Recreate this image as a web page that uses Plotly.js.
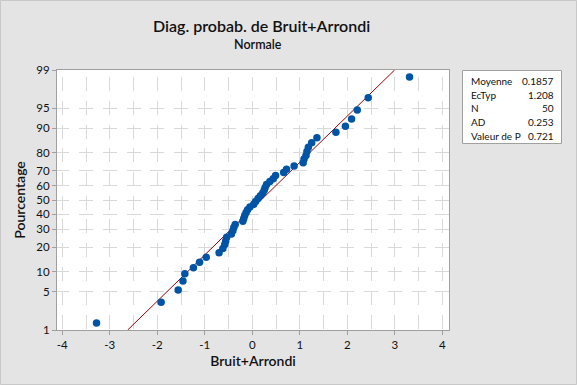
<!DOCTYPE html>
<html>
<head>
<meta charset="utf-8">
<script src="https://cdn.plot.ly/plotly-3.0.1.min.js"></script>
<style>html,body{margin:0;padding:0;background:#e4e4e4;}#chart{width:577px;height:385px;}</style>
</head>
<body>
<div id="chart"></div>
<script>
// Observed values (sorted) of Bruit+Arrondi
const values = [-3.28, -1.92, -1.56, -1.46, -1.42, -1.24, -1.11, -0.97, -0.70, -0.62,
  -0.58, -0.56, -0.54, -0.44, -0.41, -0.39, -0.36, -0.20, -0.18, -0.16,
  -0.13, -0.10, -0.05, 0.03, 0.07, 0.12, 0.17, 0.22, 0.25, 0.27,
  0.30, 0.37, 0.44, 0.49, 0.66, 0.72, 0.88, 1.07, 1.09, 1.13,
  1.15, 1.18, 1.25, 1.36, 1.76, 1.96, 2.09, 2.21, 2.44, 3.31];
// Plotted percentages (median ranks)
const percents = [1.39, 3.37, 5.36, 7.34, 9.33, 11.31, 13.29, 15.28, 17.26, 19.25,
  21.23, 23.21, 25.20, 27.18, 29.17, 31.15, 33.13, 35.12, 37.10, 39.09,
  41.07, 43.06, 45.04, 47.02, 49.01, 50.99, 52.98, 54.96, 56.94, 58.93,
  60.91, 62.90, 64.88, 66.87, 68.85, 70.83, 72.82, 74.80, 76.79, 78.77,
  80.75, 82.74, 84.72, 86.71, 88.69, 90.67, 92.66, 94.64, 96.63, 98.61];
const yTickPercents = [1, 5, 10, 20, 30, 40, 50, 60, 70, 80, 90, 95, 99];
const xTickVals = [-4, -3, -2, -1, 0, 1, 2, 3, 4];
const statLabels = ["Moyenne", "EcTyp", "N", "AD", "Valeur de P"];
const statValues = ["0.1857", "1.208", "50", "0.253", "0.721"];
const meanVal = 0.1857, sdVal = 1.208;
const fitPercents = [1, 99];

// inverse standard normal CDF (Acklam)
function norminv(p) {
  const a = [-3.969683028665376e+01, 2.209460984245205e+02, -2.759285104469687e+02, 1.383577518672690e+02, -3.066479806614716e+01, 2.506628277459239e+00];
  const b = [-5.447609879822406e+01, 1.615858368580409e+02, -1.556989798598866e+02, 6.680131188771972e+01, -1.328068155288572e+01];
  const c = [-7.784894002430293e-03, -3.223964580411365e-01, -2.400758277161838e+00, -2.549732539343734e+00, 4.374664141464968e+00, 2.938163982698783e+00];
  const d = [7.784695709041462e-03, 3.224671290700398e-01, 2.445134137142996e+00, 3.754408661907416e+00];
  const pl = 0.02425, ph = 1 - pl;
  let q, r;
  if (p < pl) { q = Math.sqrt(-2 * Math.log(p)); return (((((c[0]*q+c[1])*q+c[2])*q+c[3])*q+c[4])*q+c[5]) / ((((d[0]*q+d[1])*q+d[2])*q+d[3])*q+1); }
  if (p <= ph) { q = p - 0.5; r = q*q; return (((((a[0]*r+a[1])*r+a[2])*r+a[3])*r+a[4])*r+a[5])*q / (((((b[0]*r+b[1])*r+b[2])*r+b[3])*r+b[4])*r+1); }
  q = Math.sqrt(-2 * Math.log(1 - p)); return -(((((c[0]*q+c[1])*q+c[2])*q+c[3])*q+c[4])*q+c[5]) / ((((d[0]*q+d[1])*q+d[2])*q+d[3])*q+1);
}
const zOf = pc => norminv(pc / 100);

const FONT = 'Segoe UI, Lato, Noto Sans, sans-serif';
const gridCol = '#d9d9d9';
const frameCol = '#a0a0a0';

const fitZ = fitPercents.map(zOf);
const fitX = fitZ.map(z => meanVal + sdVal * z);

const traces = [
  { x: fitX, y: fitZ, type: 'scatter', mode: 'lines', line: { color: '#9b0000', width: 1 }, hoverinfo: 'skip', showlegend: false },
  { x: values, y: percents.map(zOf), type: 'scatter', mode: 'markers', marker: { color: '#0054a6', size: 7.5 }, showlegend: false }
];

const L = 57, R = 449, T = 70, B = 330, W = 577, H = 385;
const pw = R - L, ph = B - T;
const px = v => (v - L) / pw;
const py = v => (B - v) / ph;

const annotations = [
  { text: 'Diag. probab. de Bruit+Arrondi', xref: 'paper', yref: 'paper', x: px(261), y: py(26), xanchor: 'center', yanchor: 'middle', showarrow: false, font: { family: FONT, size: 16, color: '#111', weight: 600 } },
  { text: 'Normale', xref: 'paper', yref: 'paper', x: px(258), y: py(45), xanchor: 'center', yanchor: 'middle', showarrow: false, font: { family: FONT, size: 12.5, color: '#111', weight: 600 } }
];
const rowsY = [80.7, 94.7, 108.2, 121.7, 135.7];
statLabels.forEach((lab, i) => {
  annotations.push({ text: lab, xref: 'paper', yref: 'paper', x: px(469), y: py(rowsY[i]), xanchor: 'left', yanchor: 'middle', showarrow: false, font: { family: FONT, size: 10, color: '#111' } });
  annotations.push({ text: statValues[i], xref: 'paper', yref: 'paper', x: px(556), y: py(rowsY[i]), xanchor: 'right', yanchor: 'middle', showarrow: false, font: { family: FONT, size: 10, color: '#111' } });
});

const shapes = [
  { type: 'rect', xref: 'paper', yref: 'paper', x0: px(462.5), x1: px(561.5), y0: py(70.5), y1: py(143.5), line: { color: frameCol, width: 1 }, fillcolor: '#ffffff', layer: 'below' },
  { type: 'rect', xref: 'paper', yref: 'paper', x0: px(0.5), x1: px(576.5), y0: py(0.5), y1: py(384.5), line: { color: '#c8c8c8', width: 1 }, fillcolor: 'rgba(0,0,0,0)', layer: 'below' }
];

const layout = {
  width: W, height: H,
  margin: { l: L, r: W - R, t: T, b: H - B, pad: 0 },
  paper_bgcolor: '#e4e4e4', plot_bgcolor: '#ffffff',
  font: { family: FONT, size: 11.5, color: '#111' },
  xaxis: {
    range: [-4.112, 4.141], tickvals: xTickVals, ticktext: xTickVals.map(String),
    ticks: 'outside', ticklen: 4, tickcolor: frameCol, tickfont: { size: 11.5, color: '#111' },
    showline: true, linecolor: frameCol, linewidth: 1, mirror: true, zeroline: false,
    showgrid: true, gridcolor: gridCol, gridwidth: 1, griddash: '0px,7px,14px,2.75px',
    minor: { dtick: 0.5, tick0: 0, showgrid: true, gridcolor: gridCol, gridwidth: 1, griddash: '0px,7px,14px,2.75px', ticks: '' },
    title: { text: 'Bruit+Arrondi', font: { family: FONT, size: 14, color: '#111', weight: 600 }, standoff: 6 }
  },
  yaxis: {
    range: [zOf(1), zOf(99)], tickvals: yTickPercents.map(zOf), ticktext: yTickPercents.map(String),
    ticks: 'outside', ticklen: 4, tickcolor: frameCol, tickfont: { size: 11.5, color: '#111' },
    showline: true, linecolor: frameCol, linewidth: 1, mirror: true, zeroline: false,
    showgrid: true, gridcolor: gridCol, gridwidth: 1, griddash: '12.3px,9.75px,1.7px,0px',
    title: { text: 'Pourcentage', font: { family: FONT, size: 14, color: '#111', weight: 600 }, standoff: 7 }
  },
  annotations: annotations,
  shapes: shapes
};

Plotly.newPlot('chart', traces, layout, { displayModeBar: false, staticPlot: true });
</script>
</body>
</html>
